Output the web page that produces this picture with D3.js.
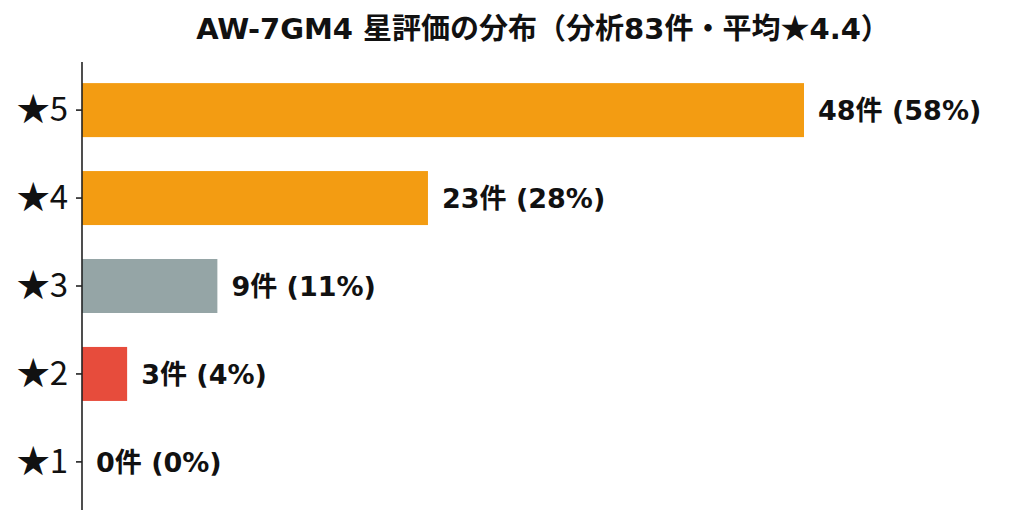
<!DOCTYPE html>
<html>
  <head>
    <meta charset="utf-8" />
    <script src="https://cdn.jsdelivr.net/npm/d3@7"></script>
    <style>
      body {
        margin: 0;
        background: #ffffff;
      }
      svg text {
        font-family: "DejaVu Sans", "Noto Sans CJK JP", sans-serif;
      }
    </style>
  </head>
  <body>
    <svg id="chart" width="1035" height="524"></svg>
    <script>
      // data
      const titleText = "AW-7GM4 星評価の分布（分析83件・平均★4.4）";
      const ratings = ["★5", "★4", "★3", "★2", "★1"];
      const counts = [48, 23, 9, 3, 0];
      const percents = [58, 28, 11, 4, 0];
      const barColors = ["#f39c12", "#f39c12", "#95a5a6", "#e74c3c", "#e74c3c"];

      const svg = d3.select("#chart");
      const m = { left: 82, right: 1004, top: 62, bottom: 510 };

      const x = d3.scaleLinear().domain([0, 48]).range([m.left, 804]);
      const y = d3
        .scaleBand()
        .domain(ratings)
        .range([m.top, m.bottom])
        .paddingInner(0.386)
        .paddingOuter(0.24);

      const rows = ratings.map((r, i) => ({
        rating: r,
        count: counts[i],
        pct: percents[i],
        color: barColors[i],
      }));

      // title: the star glyph comes from the CJK font so it is full width
      const title = svg
        .append("text")
        .attr("x", (m.left + m.right) / 2)
        .attr("y", 39)
        .attr("text-anchor", "middle")
        .attr("font-size", 29)
        .attr("font-weight", "bold")
        .attr("fill", "#111");
      titleText.split("★").forEach((part, i) => {
        if (i > 0) title.append("tspan").style("font-family", "'Noto Sans CJK JP'").text("★");
        title.append("tspan").text(part);
      });

      svg
        .selectAll("rect.bar")
        .data(rows)
        .join("rect")
        .attr("class", "bar")
        .attr("x", x(0))
        .attr("y", (d) => y(d.rating))
        .attr("width", (d) => x(d.count) - x(0))
        .attr("height", y.bandwidth())
        .attr("fill", (d) => d.color);

      svg
        .selectAll("text.val")
        .data(rows)
        .join("text")
        .attr("class", "val")
        .attr("x", (d) => x(d.count) + 14)
        .attr("y", (d) => y(d.rating) + y.bandwidth() / 2)
        .attr("dy", "0.36em")
        .attr("font-size", 27)
        .attr("font-weight", "bold")
        .attr("fill", "#111")
        .text((d) => d.count + "件 (" + d.pct + "%)");

      const yAxis = svg
        .append("g")
        .attr("transform", `translate(${m.left},0)`)
        .call(d3.axisLeft(y).tickSize(6).tickPadding(8));
      yAxis.select(".domain").attr("d", `M0,${m.top}V${m.bottom}`).attr("stroke", "#222").attr("stroke-width", 1.6);
      yAxis.selectAll(".tick line").attr("stroke", "#222").attr("stroke-width", 1.6);
      yAxis
        .selectAll(".tick text")
        .attr("font-size", 33)
        .attr("fill", "#111")
        .attr("dy", "0.34em")
        .style("font-family", "'Noto Sans CJK JP', sans-serif");
    </script>
  </body>
</html>
